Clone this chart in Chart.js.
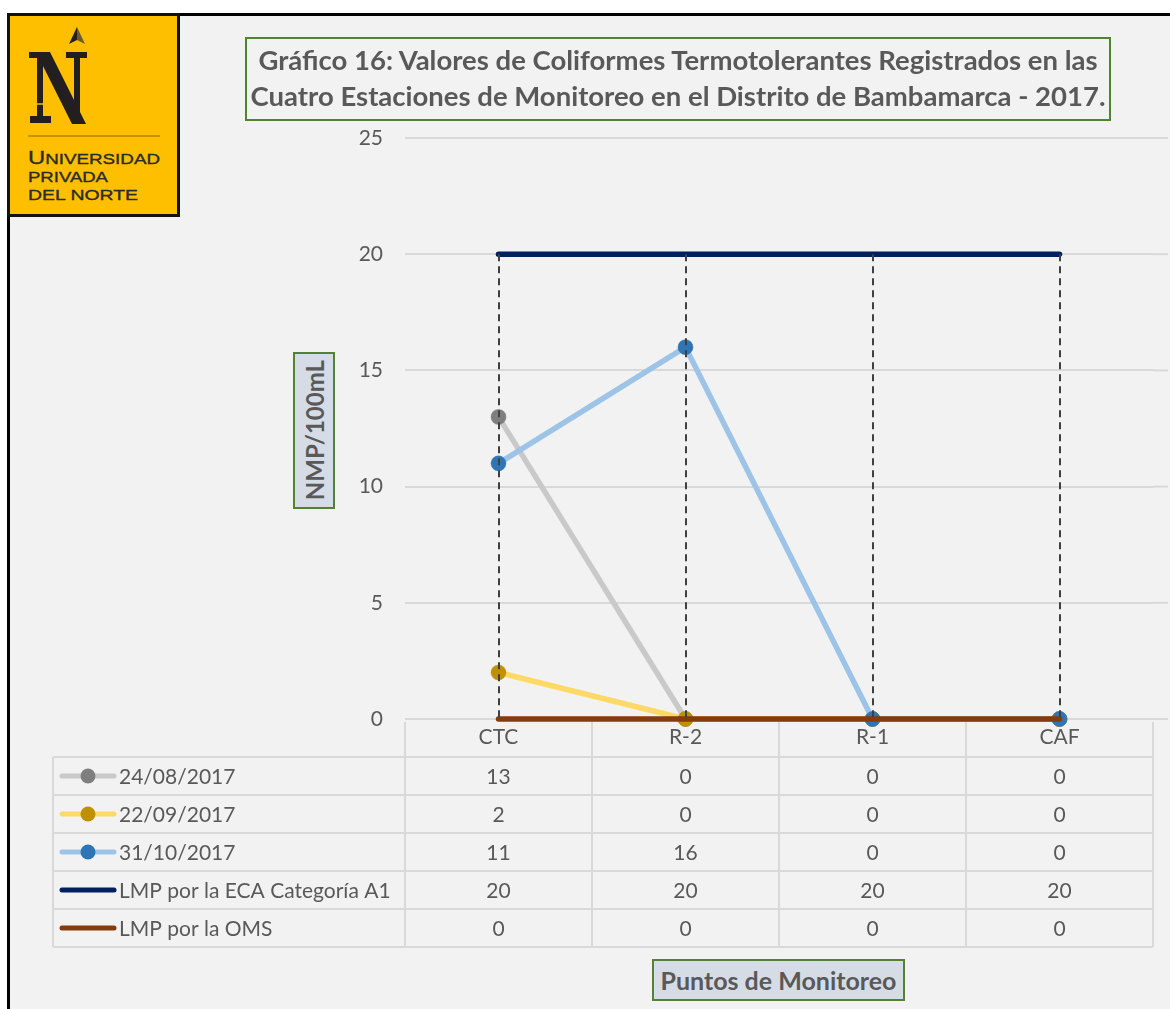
<!DOCTYPE html>
<html>
<head>
<meta charset="utf-8">
<script src="https://cdn.jsdelivr.net/npm/chart.js@4.4.1/dist/chart.umd.min.js"></script>
<style>
  html, body { margin: 0; padding: 0; background: #ffffff; }
  #page { position: relative; width: 1170px; height: 1009px; overflow: hidden; background: #ffffff; }
  #frame { position: absolute; left: 7px; top: 13px; right: 0; bottom: 0; background: #f2f2f2;
           border-top: 3px solid #000; border-left: 3px solid #000; }
  #c { position: absolute; left: 0; top: 0; }
  #logo { position: absolute; left: 7px; top: 13px; width: 167px; height: 198px; background: #fdbf00;
          border: 3px solid #111; }
  #title { position: absolute; left: 245px; top: 37px; width: 862px; height: 77px;
           border: 2px solid #548235; color: #595959; font-family: Lato, sans-serif; font-weight: 700;
           font-size: 27.5px; line-height: 36px; text-align: center; padding-top: 3px; box-sizing: content-box;
           white-space: nowrap; }
  .axtitle { position: absolute; background: #d6dce5; border: 2px solid #548235; color: #595959;
             font-family: Lato, sans-serif; font-weight: 700; box-sizing: border-box;
             display: flex; align-items: center; justify-content: center; }
  #ytitle { left: 293px; top: 352px; width: 42px; height: 157px; font-size: 24px; }
  #ytitle span { writing-mode: vertical-rl; transform: rotate(180deg); white-space: nowrap; }
  #xtitle { left: 652px; top: 959px; width: 253px; height: 42px; font-size: 25px; }
</style>
</head>
<body>
<div id="page">
  <div id="frame"></div>
  <canvas id="c" width="1170" height="1009"></canvas>
  <div id="logo">
    <svg width="167" height="198" viewBox="10 16 167 198" xmlns="http://www.w3.org/2000/svg">
      <polygon points="77,27 69,44 77,40" fill="#231f20"/>
      <polygon points="77,27 85,44 77,40" fill="#6b5a2a"/>
      <polygon points="29,52 50,52 50,58 29,58" fill="#231f20"/>
      <polygon points="36,52 50,52 86,124 72,124" fill="#231f20"/>
      <polygon points="37,58 43,58 43,116 37,116" fill="#231f20"/>
      <polygon points="30,116 51,116 51,123 30,123" fill="#231f20"/>
      <polygon points="66,52 87,52 87,58 66,58" fill="#231f20"/>
      <polygon points="74,58 80,58 80,118 74,112" fill="#231f20"/>
      <line x1="37" y1="104" x2="62" y2="104" stroke="#fdbf00" stroke-width="1.5"/>
      <line x1="28" y1="136" x2="160" y2="136" stroke="#8a6a00" stroke-width="1.2"/>
      <g font-family="Liberation Sans, Arial, sans-serif" fill="#2b2b2b" stroke="#2b2b2b" stroke-width="0.35">
        <text x="28" y="164" font-size="15" textLength="132" lengthAdjust="spacingAndGlyphs"><tspan font-size="19">U</tspan>NIVERSIDAD</text>
        <text x="28" y="182" font-size="15" textLength="80" lengthAdjust="spacingAndGlyphs">PRIVADA</text>
        <text x="28" y="200" font-size="15" textLength="110" lengthAdjust="spacingAndGlyphs">DEL NORTE</text>
      </g>
    </svg>
  </div>
  <div id="title">Gráfico 16: Valores de Coliformes Termotolerantes Registrados en las<br>Cuatro Estaciones de Monitoreo en el Distrito de Bambamarca - 2017.</div>
  <div id="ytitle" class="axtitle"><span>NMP/100mL</span></div>
  <div id="xtitle" class="axtitle"><span>Puntos de Monitoreo</span></div>
</div>
<script>
// ---- data ----
const categories = ['CTC', 'R-2', 'R-1', 'CAF'];
const seriesNames = ['24/08/2017', '22/09/2017', '31/10/2017', 'LMP por la ECA Categoría A1', 'LMP por la OMS'];
const s2408 = [13, 0, 0, 0];
const s2209 = [2, 0, 0, 0];
const s3110 = [11, 16, 0, 0];
const lmpEca = [20, 20, 20, 20];
const lmpOms = [0, 0, 0, 0];
const yTicks = [0, 5, 10, 15, 20, 25];

const lineColors = ['#c9c9c9', '#ffd966', '#9dc3e6', '#002060', '#843c0c'];
const markerColors = ['#7f7f7f', '#bf9000', '#2e75b6', null, null];
const FONT = 'Lato, sans-serif';
const TXT = '#595959';

const allSeries = [s2408, s2209, s3110, lmpEca, lmpOms];
const datasets = allSeries.map((d, i) => ({
  label: seriesNames[i],
  data: d,
  borderColor: lineColors[i],
  backgroundColor: markerColors[i] || lineColors[i],
  borderWidth: 5.5,
  borderCapStyle: 'round',
  borderJoinStyle: 'round',
  tension: 0,
  pointRadius: markerColors[i] ? 7.5 : 0,
  pointBackgroundColor: markerColors[i] || lineColors[i],
  pointBorderColor: markerColors[i] || lineColors[i],
  pointBorderWidth: 0.5,
  order: [4, 3, 2, 1, 0][i],
  clip: false
}));

const tablePlugin = {
  id: 'tablePlugin',
  beforeDatasetsDraw(chart) {
    // gridlines continue to the right edge of the frame
    const ctx = chart.ctx, y = chart.scales.y, area = chart.chartArea;
    ctx.save();
    ctx.strokeStyle = '#d9d9d9';
    ctx.lineWidth = 2;
    yTicks.forEach(v => {
      const py = y.getPixelForValue(v);
      ctx.beginPath(); ctx.moveTo(area.right, py); ctx.lineTo(chart.width - 2, py); ctx.stroke();
    });
    ctx.restore();
  },
  afterDatasetsDraw(chart) {
    const ctx = chart.ctx, x = chart.scales.x, y = chart.scales.y;
    ctx.save();
    ctx.strokeStyle = '#404040';
    ctx.lineWidth = 2;
    ctx.setLineDash([7, 5]);
    categories.forEach((c, i) => {
      const maxV = Math.max(...allSeries.map(s => s[i]));
      const minV = Math.min(...allSeries.map(s => s[i]));
      const px = Math.round(x.getPixelForValue(i));
      ctx.beginPath();
      ctx.moveTo(px, y.getPixelForValue(maxV));
      ctx.lineTo(px, y.getPixelForValue(minV));
      ctx.stroke();
    });
    ctx.restore();
  },
  afterDraw(chart) {
    const ctx = chart.ctx, x = chart.scales.x, area = chart.chartArea;
    const half = (x.getPixelForValue(1) - x.getPixelForValue(0)) / 2;
    const left = x.getPixelForValue(0) - half;
    const right = x.getPixelForValue(categories.length - 1) + half;
    const headTop = area.bottom + 3;
    const rowH = 38;
    const bodyTop = area.bottom + rowH;
    const tableLeft = 53;
    const nRows = allSeries.length;
    const bodyBottom = bodyTop + nRows * rowH;
    ctx.save();
    ctx.strokeStyle = '#d9d9d9';
    ctx.lineWidth = 2;
    ctx.setLineDash([]);
    for (let r = 0; r <= nRows; r++) {
      const yy = bodyTop + r * rowH;
      ctx.beginPath(); ctx.moveTo(tableLeft, yy); ctx.lineTo(right, yy); ctx.stroke();
    }
    ctx.beginPath(); ctx.moveTo(tableLeft, bodyTop); ctx.lineTo(tableLeft, bodyBottom); ctx.stroke();
    for (let i = 0; i <= categories.length; i++) {
      const xx = Math.round(left + i * 2 * half);
      ctx.beginPath(); ctx.moveTo(xx, headTop); ctx.lineTo(xx, bodyBottom); ctx.stroke();
    }
    ctx.fillStyle = TXT;
    ctx.font = '21px ' + FONT;
    ctx.textAlign = 'center';
    ctx.textBaseline = 'middle';
    allSeries.forEach((s, r) => {
      const cy = bodyTop + r * rowH + rowH / 2 + 1;
      s.forEach((v, i) => ctx.fillText(String(v), x.getPixelForValue(i), cy));
    });
    allSeries.forEach((s, r) => {
      const cy = bodyTop + r * rowH + rowH / 2;
      ctx.strokeStyle = lineColors[r];
      ctx.lineWidth = 5;
      ctx.lineCap = 'round';
      ctx.beginPath(); ctx.moveTo(62, cy); ctx.lineTo(114, cy); ctx.stroke();
      if (markerColors[r]) {
        ctx.fillStyle = markerColors[r];
        ctx.beginPath(); ctx.arc(88, cy, 7.5, 0, Math.PI * 2); ctx.fill();
      }
      ctx.fillStyle = TXT;
      ctx.textAlign = 'left';
      ctx.fillText(seriesNames[r], 119, cy + 1);
    });
    ctx.restore();
  }
};

new Chart(document.getElementById('c'), {
  type: 'line',
  data: { labels: categories, datasets },
  options: {
    responsive: false,
    devicePixelRatio: 1,
    animation: false,
    layout: { padding: { left: 0, right: 17, top: 138, bottom: 0 } },
    plugins: { legend: { display: false }, title: { display: false }, tooltip: { enabled: false } },
    scales: {
      x: {
        type: 'category',
        offset: true,
        grid: { display: false, drawTicks: false },
        border: { display: false },
        ticks: { color: TXT, font: { family: FONT, size: 21 }, padding: 6, maxRotation: 0 },
        afterFit(scale) { scale.height = 290; }
      },
      y: {
        min: 0, max: 25,
        afterBuildTicks(scale) { scale.ticks = yTicks.map(v => ({ value: v })); },
        grid: { color: '#d9d9d9', lineWidth: 2, drawTicks: false },
        border: { display: false },
        ticks: { color: TXT, font: { family: FONT, size: 21 }, padding: 22 },
        afterFit(scale) { scale.width = 405; }
      }
    }
  },
  plugins: [tablePlugin]
});
</script>
</body>
</html>
